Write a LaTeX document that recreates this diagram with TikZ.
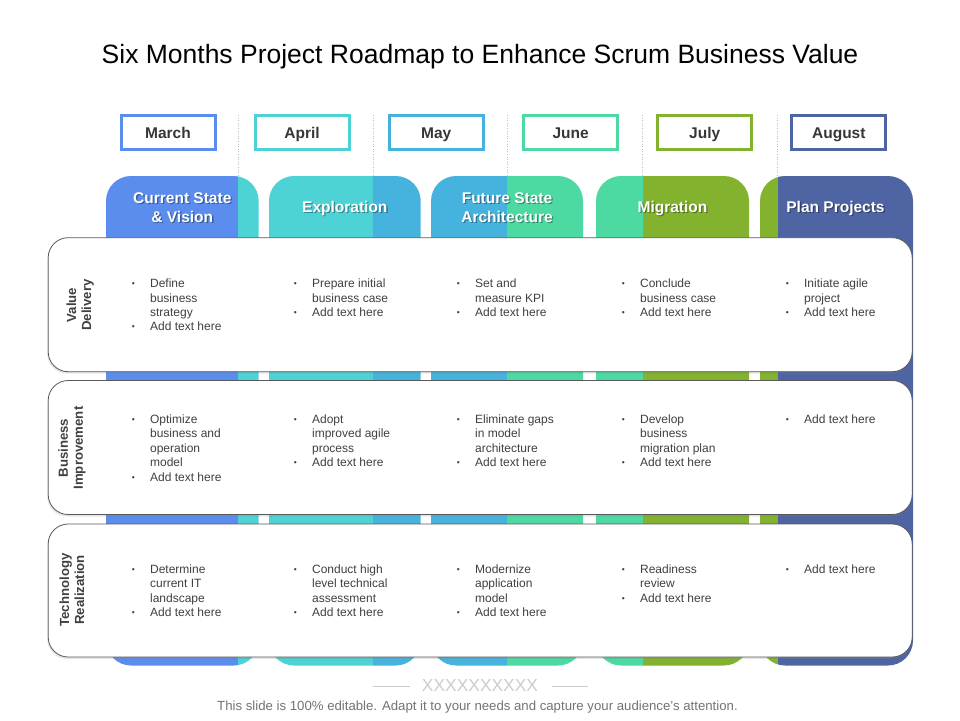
\documentclass[tikz,border=0pt]{standalone}
\usepackage{fontspec}
\setmainfont{Liberation Sans}
\usetikzlibrary{shadows}
\definecolor{mblue}{HTML}{5B8DEE}
\definecolor{mteal}{HTML}{4DD2D6}
\definecolor{msky}{HTML}{45B3DE}
\definecolor{mmint}{HTML}{4CD9A2}
\definecolor{molive}{HTML}{82B22E}
\definecolor{mnavy}{HTML}{4F64A2}
\definecolor{txt}{HTML}{404040}
\newcommand{\bl}{\raisebox{1pt}{\fontsize{8.5}{8.5}\selectfont\textbullet}}
\newcommand{\tasks}[1]{\begin{tabular}{@{}p{18.2pt}@{}l@{}}#1\end{tabular}}
\tikzset{
  month/.style={draw=#1, line width=3pt, minimum width=94pt, minimum height=34pt,
    text height=12pt, text depth=1pt,
    font=\fontsize{15.5}{18}\selectfont\bfseries, text=txt!85!black},
  phase/.style={text=white, font=\fontsize{15.5}{19}\selectfont\bfseries, align=center},
  oneline/.style={text height=12pt, text depth=1pt},
  phaseshadow/.style={phase, text=black, opacity=0.35},
  card/.style={draw=black!65, fill=white, rounded corners=20pt, line width=0.8pt,
    drop shadow={shadow xshift=-1pt, shadow yshift=-2pt, opacity=0.2}},
  rowlabel/.style={rotate=90, font=\fontsize{13.2}{15}\selectfont\bfseries, text=txt, align=center},
  cell/.style={anchor=north west, inner sep=0pt, text=txt, font=\fontsize{12}{14.4}\selectfont},
  sep/.style={draw=black!25, dotted, line width=0.6pt},
  footline/.style={draw=black!20, line width=0.6pt}
}
\begin{document}
\begin{tikzpicture}[x=1pt,y=-1pt]
\useasboundingbox (0,0) rectangle (960,720);
% title
\node[anchor=base] (title) at (480,63.3) {\fontsize{26.5}{30}\selectfont Six Months Project Roadmap to Enhance Scrum Business Value};
% months
\node[month=mblue] (mar) at (168,132.5) {March};
\node[month=mteal] (apr) at (302,132.5) {April};
\node[month=msky] (may) at (436.2,132.5) {May};
\node[month=mmint] (jun) at (570.7,132.5) {June};
\node[month=molive] (jul) at (704.7,132.5) {July};
\node[month=mnavy] (aug) at (838.8,132.5) {August};
\draw[sep] (238.3,115) -- (238.3,176);
\draw[sep] (373.3,115) -- (373.3,176);
\draw[sep] (507.3,115) -- (507.3,176);
\draw[sep] (642.7,115) -- (642.7,176);
\draw[sep] (777.5,115) -- (777.5,176);
% phase columns
\begin{scope}
\clip[rounded corners=25pt] (106,176) rectangle (258.7,665.5)
  (269,176) rectangle (420.7,665.5) (431,176) rectangle (583,665.5)
  (596,176) rectangle (749,665.5) (760,176) rectangle (913,665.5);
\fill[mblue] (100,170) rectangle (238.3,670);
\fill[mteal] (238.3,170) rectangle (373.3,670);
\fill[msky] (373.3,170) rectangle (507.3,670);
\fill[mmint] (507.3,170) rectangle (642.7,670);
\fill[molive] (642.7,170) rectangle (777.5,670);
\fill[mnavy] (777.5,170) rectangle (920,670);
\end{scope}
\node[phaseshadow] (cur-s) at (183.6,208.8) {Current State\\\& Vision};
\node[phase] (cur) at (182.3,207.5) {Current State\\\& Vision};
\node[phaseshadow, oneline] (exp-s) at (346.1,208.3) {Exploration};
\node[phase, oneline] (exp) at (344.8,207) {Exploration};
\node[phaseshadow] (fut-s) at (508.3,208.8) {Future State\\Architecture};
\node[phase] (fut) at (507,207.5) {Future State\\Architecture};
\node[phaseshadow, oneline] (mig-s) at (673.8,208.3) {Migration};
\node[phase, oneline] (mig) at (672.5,207) {Migration};
\node[phaseshadow, oneline] (pla-s) at (836.8,208.3) {Plan Projects};
\node[phase, oneline] (pla) at (835.5,207) {Plan Projects};
% cards
\node[card, minimum width=864pt, minimum height=134pt] (vd) at (480.2,304.7) {};
\node[card, minimum width=864pt, minimum height=134pt] (bi) at (480.2,447.5) {};
\node[card, minimum width=864pt, minimum height=133pt] (tr) at (480.2,590.5) {};
\node[rowlabel] (vd-l) at (80.3,305) {Value\\Delivery};
\node[rowlabel] (bi-l) at (72,448) {Business\\Improvement};
\node[rowlabel] (tr-l) at (72,590) {Technology\\Realization};
% value delivery
\node[cell] (vd1) at (131.7,277.4) {\tasks{\bl & Define\\ & business\\ & strategy\\ \bl & Add text here}};
\node[cell] (vd2) at (293.7,277.4) {\tasks{\bl & Prepare initial\\ & business case\\ \bl & Add text here}};
\node[cell] (vd3) at (456.7,277.4) {\tasks{\bl & Set and\\ & measure KPI\\ \bl & Add text here}};
\node[cell] (vd4) at (621.7,277.4) {\tasks{\bl & Conclude\\ & business case\\ \bl & Add text here}};
\node[cell] (vd5) at (785.7,277.4) {\tasks{\bl & Initiate agile\\ & project\\ \bl & Add text here}};
% business improvement
\node[cell] (bi1) at (131.7,413.2) {\tasks{\bl & Optimize\\ & business and\\ & operation\\ & model\\ \bl & Add text here}};
\node[cell] (bi2) at (293.7,413.2) {\tasks{\bl & Adopt\\ & improved agile\\ & process\\ \bl & Add text here}};
\node[cell] (bi3) at (456.7,413.2) {\tasks{\bl & Eliminate gaps\\ & in model\\ & architecture\\ \bl & Add text here}};
\node[cell] (bi4) at (621.7,413.2) {\tasks{\bl & Develop\\ & business\\ & migration plan\\ \bl & Add text here}};
\node[cell] (bi5) at (785.7,413.2) {\tasks{\bl & Add text here}};
% technology realization
\node[cell] (tr1) at (131.7,563.2) {\tasks{\bl & Determine\\ & current IT\\ & landscape\\ \bl & Add text here}};
\node[cell] (tr2) at (293.7,563.2) {\tasks{\bl & Conduct high\\ & level technical\\ & assessment\\ \bl & Add text here}};
\node[cell] (tr3) at (456.7,563.2) {\tasks{\bl & Modernize\\ & application\\ & model\\ \bl & Add text here}};
\node[cell] (tr4) at (621.7,563.2) {\tasks{\bl & Readiness\\ & review\\ \bl & Add text here}};
\node[cell] (tr5) at (785.7,563.2) {\tasks{\bl & Add text here}};
% footer
\draw[footline] (373,686) -- (410,686);
\draw[footline] (552,686) -- (588,686);
\node[text=black!20, font=\fontsize{17.4}{17.4}\selectfont] (xs) at (480,686) {XXXXXXXXXX};
\node[text=black!55, font=\fontsize{13.2}{15}\selectfont] (note) at (477.5,707) {This slide is 100\% editable. Adapt it to your needs and capture your audience's attention.};
\end{tikzpicture}
\end{document}
